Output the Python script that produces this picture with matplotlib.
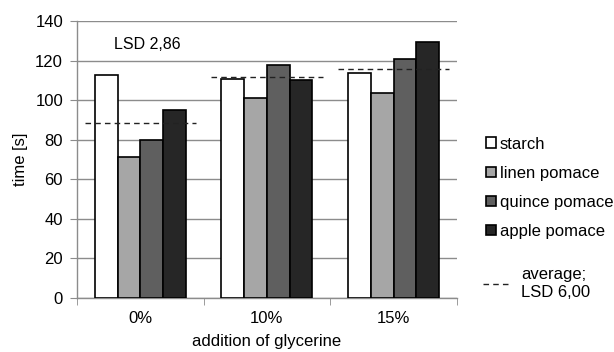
import numpy as np
import matplotlib
matplotlib.use('Agg')
import matplotlib.pyplot as plt
from matplotlib.patches import Patch
from matplotlib.lines import Line2D

plt.rcParams['font.family'] = ['Liberation Sans', 'DejaVu Sans']
plt.rcParams['font.size'] = 12

# data
categories = ['0%', '10%', '15%']
series = ['starch', 'linen pomace', 'quince pomace', 'apple pomace']
starch = [113.0, 110.8, 113.9]
linen = [71.3, 101.1, 103.8]
quince = [79.7, 117.9, 120.6]
apple = [95.0, 110.2, 129.5]
average = [88.6, 111.5, 115.6]
colors = ['#ffffff', '#a6a6a6', '#5f5f5f', '#262626']

fig = plt.figure(figsize=(6.14, 3.52), dpi=100)
ax = fig.add_axes([0.1254, 0.1534, 0.6186, 0.7866])

x = np.arange(len(categories))
w = 0.18
values = [starch, linen, quince, apple]
for i, vals in enumerate(values):
    ax.bar(x + (i - 1.5) * w, vals, width=w, color=colors[i],
           edgecolor='black', linewidth=1.2, zorder=3)

# average lines per group
for xi, avg in zip(x, average):
    ax.plot([xi - 0.44, xi + 0.44], [avg, avg], color='#222222',
            linestyle=(0, (4, 3)), linewidth=1.0, zorder=4)

ax.set_xlim(-0.5, 2.5)
ax.set_ylim(0, 140)
ax.set_yticks(range(0, 141, 20))
ax.yaxis.grid(True, color='#8c8c8c', linewidth=1.0, zorder=0)
ax.set_axisbelow(True)

ax.set_xticks(x)
ax.set_xticklabels(categories)
ax.set_xticks([-0.5, 0.5, 1.5, 2.5], minor=True)
ax.tick_params(axis='x', which='major', length=0, pad=9)
ax.tick_params(axis='x', which='minor', length=5, color='#8c8c8c')
ax.tick_params(axis='y', length=5, color='#8c8c8c', pad=5)

for s in ['top', 'right']:
    ax.spines[s].set_visible(False)
for s in ['left', 'bottom']:
    ax.spines[s].set_color('#8c8c8c')
    ax.spines[s].set_linewidth(1.0)

ax.set_xlabel('addition of glycerine', labelpad=6)
ax.set_ylabel('time [s]', labelpad=5)

ax.text(-0.21, 128, 'LSD 2,86', fontsize=11.5, va='center', ha='left')

handles = [Patch(facecolor=c, edgecolor='black', linewidth=1.2) for c in colors]
leg1 = fig.legend(handles, series, loc='upper left', bbox_to_anchor=(0.78, 0.631),
                  frameon=False, handlelength=0.6, handleheight=0.6,
                  handletextpad=0.25, labelspacing=0.85, borderaxespad=0,
                  fontsize=12)
line_h = [Line2D([0], [0], color='#222222', linestyle=(0, (4, 3)), linewidth=1.0)]
leg2 = fig.legend(line_h, ['average;\nLSD 6,00'], loc='upper left',
                  bbox_to_anchor=(0.775, 0.26), frameon=False, handlelength=1.7,
                  handletextpad=0.6, borderaxespad=0, fontsize=12)

fig.savefig('out.png', dpi=100)
